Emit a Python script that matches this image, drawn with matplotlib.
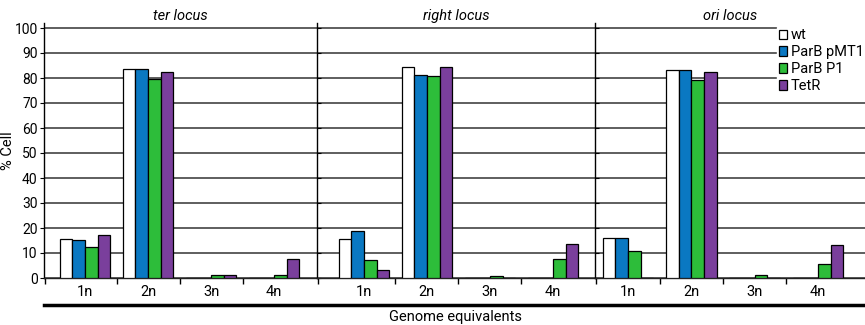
import numpy as np
import matplotlib
matplotlib.use("Agg")
import matplotlib.pyplot as plt
from matplotlib.lines import Line2D

plt.rcParams["font.family"] = ["Roboto", "DejaVu Sans"]

categories = ["1n", "2n", "3n", "4n"]
strains = ["wt", "ParB pMT1", "ParB P1", "TetR"]
colors = ["#ffffff", "#0a78c2", "#2dbd3a", "#7a3f9c"]

# % of cells per genome-equivalent class, one row per strain
ter_locus = [
    [15.6, 83.8, 0.0, 0.0],
    [15.3, 83.5, 0.0, 0.0],
    [12.4, 79.8, 1.2, 1.2],
    [17.2, 82.3, 1.2, 7.8],
]
right_locus = [
    [15.8, 84.4, 0.0, 0.0],
    [18.7, 81.3, 0.0, 0.0],
    [7.4, 80.8, 0.7, 7.6],
    [3.2, 84.5, 0.0, 13.5],
]
ori_locus = [
    [16.1, 83.4, 0.0, 0.0],
    [16.1, 83.4, 0.0, 0.0],
    [10.9, 79.3, 1.2, 5.6],
    [0.0, 82.3, 0.0, 13.2],
]
loci = ["ter locus", "right locus", "ori locus"]
panels = [ter_locus, right_locus, ori_locus]

W, H = 865, 325
fig = plt.figure(figsize=(W / 100, H / 100), dpi=100)

# panel edges in pixels and the x range each one shows
edges = [(44, 317), (317, 595), (595, 866)]
xlims = [(-0.65, 3.68), (-0.746, 3.667), (-0.524, 3.76)]
y0, y1 = 278, 23
bw = 0.2
x = np.arange(len(categories))

axes = []
for k, (data, name) in enumerate(zip(panels, loci)):
    l, r = edges[k]
    ax = fig.add_axes([l / W, 1 - y0 / H, (r - l) / W, (y0 - y1) / H])
    axes.append(ax)
    for j, vals in enumerate(data):
        ax.bar(x + (j - 1.5) * bw, vals, bw, color=colors[j], edgecolor="black",
               linewidth=0.9, label=strains[j], zorder=3)
    ax.set_xlim(*xlims[k])
    ax.set_ylim(0, 102)
    ax.set_yticks(np.arange(0, 101, 10))
    ax.yaxis.grid(True, color="#333333", linewidth=1.1, zorder=0)
    ax.set_axisbelow(True)
    for s in ["top", "right"]:
        ax.spines[s].set_visible(False)
    ax.spines["left"].set_linewidth(1.0)
    ax.spines["bottom"].set_linewidth(1.0)
    ax.spines["bottom"].set_color("#222222")

    ax.set_xticks([xlims[k][0] + 0.01, 0.5, 1.5, 2.5])
    ax.set_xticklabels([])
    ax.tick_params(axis="x", which="major", direction="out", length=4, width=1)
    ax.set_xticks(x, minor=True)
    ax.set_xticklabels(categories, minor=True, fontsize=10.5)
    ax.tick_params(axis="x", which="minor", length=0, pad=5)

    if k == 0:
        ax.tick_params(axis="y", direction="out", length=3, labelsize=10, pad=1.5)
        ax.set_ylabel("% Cell", fontsize=10.5)
        ax.yaxis.set_label_coords(-29 / (r - l), 0.5)
    else:
        ax.tick_params(axis="y", direction="in", length=3, labelleft=False)

    ax.set_title(name, fontsize=10.5, style="italic", pad=1)

leg = axes[2].legend(loc="upper left", bbox_to_anchor=(0.672, 0.985), fontsize=10.5,
                     frameon=True, framealpha=1, edgecolor="white", fancybox=False,
                     handlelength=0.6, handleheight=0.6, handletextpad=0.25,
                     labelspacing=0.2, borderpad=0.1, borderaxespad=0)
leg.set_zorder(5)

fig.add_artist(Line2D([44 / W, 1.0], [1 - 305 / H, 1 - 305 / H], color="black", linewidth=2.5))
fig.text(455 / W, 1 - 317 / H, "Genome equivalents", ha="center", va="center", fontsize=10.5)

fig.savefig("out.png", dpi=100)
